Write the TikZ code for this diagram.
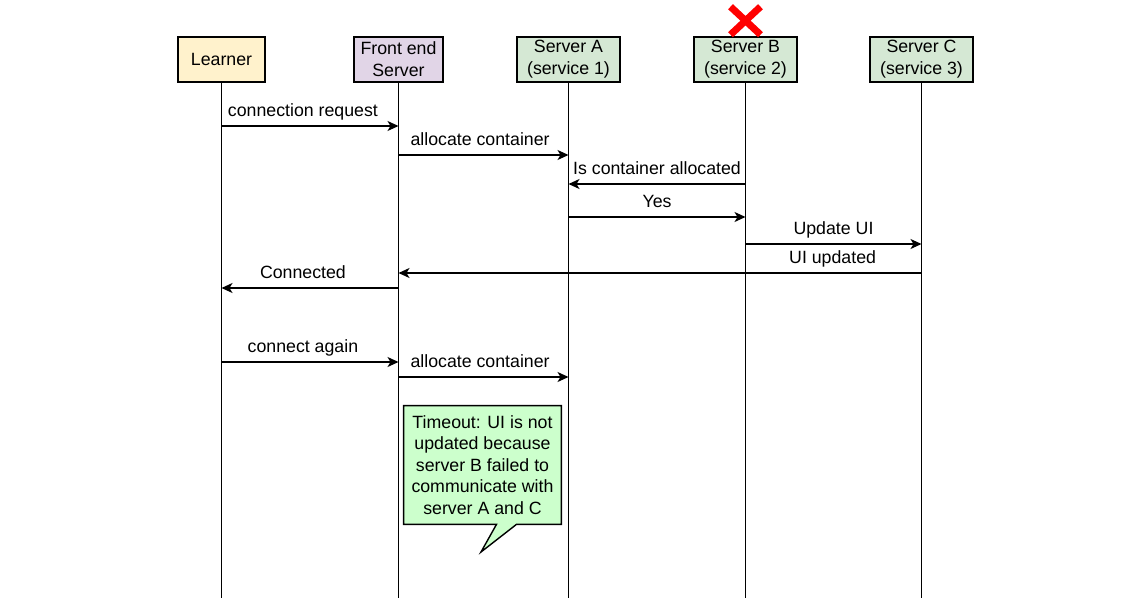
\documentclass[tikz,border=0pt]{standalone}
\usepackage{fontspec}
\setmainfont{Liberation Sans}
\usetikzlibrary{arrows.meta,positioning,calc,backgrounds}
\definecolor{lrnfill}{HTML}{FFF2CC}
\definecolor{fesfill}{HTML}{E1D5E7}
\definecolor{srvfill}{HTML}{D5E8D4}
\definecolor{notefill}{HTML}{CCFFCC}
\tikzset{
  blk/.style={draw,rectangle,line width=0.9pt,minimum height=0.9cm,align=center,inner sep=1pt,
    font=\fontsize{10.1pt}{12.6pt}\selectfont},
  lrnblk/.style={blk,fill=lrnfill,minimum width=1.74cm},
  fesblk/.style={blk,fill=fesfill,minimum width=1.78cm},
  srvblk/.style={blk,fill=srvfill,minimum width=2.07cm},
  life/.style={line width=0.8pt},
  arr/.style={-{Stealth[length=0.22cm,width=0.2cm,inset=0.06cm]},line width=0.8pt},
  lbl/.style={anchor=base,yshift=0.2cm,inner sep=0pt},
  notebox/.style={draw,fill=notefill,line width=0.8pt},
  xmark/.style={draw=red,line width=0.14cm}
}

\begin{document}
\begin{tikzpicture}[x=0.02cm, y=0.02cm, every node/.style={font=\fontsize{10.1pt}{12.3pt}\selectfont}]
  \useasboundingbox (0,0) rectangle (1148,-612);
  % Participants
  \node[lrnblk] (lrn) at (221.5,-59.5) {Learner};
  \node[fesblk] (fes) at (398.5,-59.5) {Front end\\Server};
  \node[srvblk] (srvA) at (568.5,-59.5) {Server A\\(service 1)};
  \node[srvblk] (srvB) at (745.5,-59.5) {Server B\\(service 2)};
  \node[srvblk] (srvC) at (921.5,-59.5) {Server C\\(service 3)};

  % Lifelines
  \coordinate (bottom) at (0,-598);
  \foreach \n in {lrn,fes,srvA,srvB,srvC}
    \draw[life] (\n.south) -- (\n.south |- bottom);

  % Failed server
  \draw[xmark] ($(srvB.north)+(-15,29.5)$) -- ($(srvB.north)+(15,1.5)$);
  \draw[xmark] ($(srvB.north)+(-15,1.5)$) -- ($(srvB.north)+(15,29.5)$);

  % First connection
  \draw[arr] (lrn |- 0,-126) -- (fes |- 0,-126) node[lbl,pos=.46] {connection request};
  \draw[arr] (fes |- 0,-155) -- (srvA |- 0,-155) node[lbl,pos=.48] {allocate container};
  \draw[arr] (srvB |- 0,-184) -- (srvA |- 0,-184) node[lbl,midway] {Is container allocated};
  \draw[arr] (srvA |- 0,-217) -- (srvB |- 0,-217) node[lbl,midway] {Yes};
  \draw[arr] (srvB |- 0,-244) -- (srvC |- 0,-244) node[lbl,midway] {Update UI};
  \draw[arr] (srvC |- 0,-273) -- (fes |- 0,-273) node[lbl,pos=.17] {UI updated};
  \draw[arr] (fes |- 0,-288) -- (lrn |- 0,-288) node[lbl,pos=.54] {Connected};

  % Second connection
  \draw[arr] (lrn |- 0,-362) -- (fes |- 0,-362) node[lbl,pos=.46] {connect again};
  \draw[arr] (fes |- 0,-377) -- (srvA |- 0,-377) node[lbl,pos=.48] {allocate container};

  % Timeout note
  \node[align=center,minimum width=3.14cm,minimum height=2.36cm,inner sep=0pt] (note) at (482.5,-465)
    {Timeout: UI is not\\updated because\\server B failed to\\communicate with\\server A and C};
  \coordinate (tip) at (481,-552);
  \begin{scope}[on background layer]
    \draw[notebox] (note.north west) -- (note.north east) -- (note.south east)
      -- ($(note.south)+(34,0)$) -- (tip) -- ($(note.south)+(14,0)$) -- (note.south west) -- cycle;
  \end{scope}
\end{tikzpicture}
\end{document}
